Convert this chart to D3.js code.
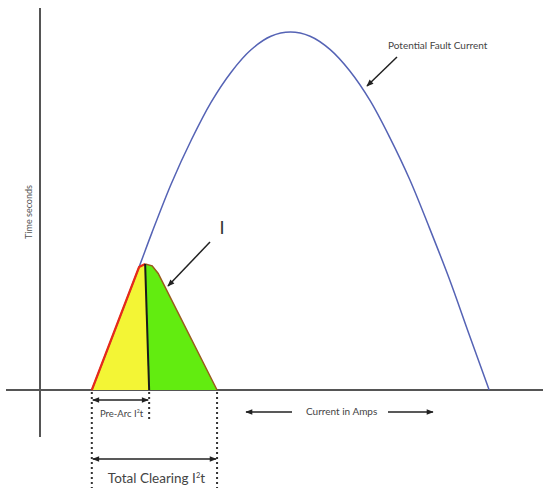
<!DOCTYPE html>
<html>
<head>
<meta charset="utf-8">
<script src="https://cdn.jsdelivr.net/npm/d3@7"></script>
<style>
  html, body { margin: 0; padding: 0; background: #fff; }
  svg { display: block; font-family: Lato, 'Open Sans', sans-serif; }
</style>
</head>
<body>
<div id="chart"></div>
<script>
const width = 543;
const height = 488;

// Potential fault current curve (current units, time units)
const faultCurrent = [10.3, 14.9, 19.7, 22.2, 26.1, 30.1, 34.0, 38.0, 41.9, 45.9, 49.8,
  53.7, 57.7, 61.6, 65.6, 69.5, 73.5, 77.4, 81.4, 85.3, 89.3];
const faultTime = [0, 15.7, 32.2, 41.0, 54.0, 65.5, 75.3, 83.2, 89.0, 92.6, 93.7,
  92.6, 89.1, 83.5, 75.8, 66.2, 55.1, 42.5, 29.0, 14.6, 0];

// Let-through (cut-off) current: pre-arc part and arcing part
const preArcCurrent = [10.3, 19.7, 20.9, 21.7];
const preArcTime = [0, 32.2, 33.0, 0];
const arcCurrent = [20.9, 22.3, 23.5, 35.2, 21.7];
const arcTime = [33.0, 32.5, 30.5, 0, 0];

const preArcEnd = 21.7;
const clearingStart = 10.3;
const clearingEnd = 35.2;

const x = d3.scaleLinear().domain([0, 100]).range([40, 543]);
const y = d3.scaleLinear().domain([0, 100]).range([390, 8]);

const zip = (xs, ys) => xs.map((v, i) => [v, ys[i]]);
const line = d3.line().x((d) => x(d[0])).y((d) => y(d[1]));

const svg = d3.select('#chart').append('svg')
  .attr('width', width).attr('height', height)
  .attr('viewBox', `0 0 ${width} ${height}`);

// Arrowhead markers
const defs = svg.append('defs');
const addArrow = (id, orient) => {
  defs.append('marker')
    .attr('id', id)
    .attr('viewBox', '0 0 10 10')
    .attr('refX', 9).attr('refY', 5)
    .attr('markerWidth', 9).attr('markerHeight', 7)
    .attr('markerUnits', 'userSpaceOnUse')
    .attr('orient', orient)
    .append('path')
    .attr('d', 'M0,1 L10,5 L0,9 Z')
    .attr('fill', '#222');
};
addArrow('arrow-end', 'auto');
addArrow('arrow-start', 'auto-start-reverse');

// Axes (plain lines, no ticks)
svg.append('line')
  .attr('x1', x(0)).attr('x2', x(0))
  .attr('y1', 8).attr('y2', 437)
  .attr('stroke', '#555').attr('stroke-width', 2);
svg.append('line')
  .attr('x1', 6).attr('x2', width)
  .attr('y1', y(0)).attr('y2', y(0))
  .attr('stroke', '#555').attr('stroke-width', 2);

// Filled areas
svg.append('path')
  .attr('d', line(zip(preArcCurrent, preArcTime)) + 'Z')
  .attr('fill', '#f3f535');
svg.append('path')
  .attr('d', line(zip(arcCurrent, arcTime)) + 'Z')
  .attr('fill', '#62ec10');

// Potential fault current curve
const smooth = d3.line().x((d) => x(d[0])).y((d) => y(d[1])).curve(d3.curveCatmullRom);
svg.append('path')
  .attr('d', smooth(zip(faultCurrent, faultTime)))
  .attr('fill', 'none')
  .attr('stroke', '#5563b5')
  .attr('stroke-width', 1.5);

// Outlines of the let-through curve
svg.append('path')
  .attr('d', line(zip(arcCurrent.slice(0, 4), arcTime.slice(0, 4))))
  .attr('fill', 'none').attr('stroke', '#9a5a1c').attr('stroke-width', 1.5);
svg.append('path')
  .attr('d', line(zip(preArcCurrent.slice(0, 3), preArcTime.slice(0, 3))))
  .attr('fill', 'none').attr('stroke', '#e82a18').attr('stroke-width', 2.2)
  .attr('stroke-linejoin', 'round');
svg.append('line')
  .attr('x1', x(preArcCurrent[2])).attr('y1', y(preArcTime[2]))
  .attr('x2', x(preArcEnd)).attr('y2', y(0))
  .attr('stroke', '#1a1a1a').attr('stroke-width', 2);

// Dotted guide lines
const guides = [
  { v: clearingStart, y2: 488 },
  { v: preArcEnd, y2: 422 },
  { v: clearingEnd, y2: 488 },
];
svg.selectAll('.guide')
  .data(guides)
  .enter()
  .append('line')
  .attr('class', 'guide')
  .attr('x1', (d) => x(d.v)).attr('x2', (d) => x(d.v))
  .attr('y1', y(0) + 2).attr('y2', (d) => d.y2)
  .attr('stroke', '#333').attr('stroke-width', 2)
  .attr('stroke-dasharray', '2,3');

// Double arrows for the I²t spans
const spans = [
  { a: clearingStart, b: preArcEnd, yy: 400 },
  { a: clearingStart, b: clearingEnd, yy: 459 },
];
svg.selectAll('.span')
  .data(spans)
  .enter()
  .append('line')
  .attr('class', 'span')
  .attr('x1', (d) => x(d.a) + 1).attr('x2', (d) => x(d.b) - 1)
  .attr('y1', (d) => d.yy).attr('y2', (d) => d.yy)
  .attr('stroke', '#222').attr('stroke-width', 1.5)
  .attr('marker-start', 'url(#arrow-start)')
  .attr('marker-end', 'url(#arrow-end)');

const label = (tx, ty, text, size, anchor = 'start') =>
  svg.append('text')
    .attr('x', tx).attr('y', ty)
    .attr('font-size', size)
    .attr('fill', '#444')
    .attr('text-anchor', anchor)
    .text(text);

// I²t label with a small superscript
const i2tLabel = (tx, ty, prefix, size) => {
  const t = svg.append('text')
    .attr('x', tx).attr('y', ty)
    .attr('font-size', size)
    .attr('fill', '#444')
    .attr('text-anchor', 'middle');
  t.append('tspan').text(prefix + 'I');
  t.append('tspan').attr('font-size', size * 0.55).attr('dy', -size * 0.38).text('2');
  t.append('tspan').attr('dy', size * 0.38).text('t');
};

// Labels
i2tLabel((x(clearingStart) + x(preArcEnd)) / 2 + 1, 417, 'Pre-Arc ', 9.5);
i2tLabel((x(clearingStart) + x(clearingEnd)) / 2 + 2, 483, 'Total Clearing ', 13.5);
label(306, 415, 'Current in Amps', 10);
label(388, 49, 'Potential Fault Current', 10);
svg.append('text')
  .attr('transform', 'translate(32,212) rotate(-90)')
  .attr('text-anchor', 'middle')
  .attr('font-size', 9)
  .attr('fill', '#555')
  .text('Time seconds');
svg.append('text')
  .attr('x', 222).attr('y', 234)
  .attr('text-anchor', 'middle')
  .attr('font-size', 18)
  .attr('fill', '#333')
  .text('I');

// Pointer arrows
const pointers = [
  [292, 412, 246, 412],
  [388, 412, 433, 412],
  [397, 57, 367, 86],
  [210, 242, 168, 286],
];
svg.selectAll('.pointer')
  .data(pointers)
  .enter()
  .append('line')
  .attr('class', 'pointer')
  .attr('x1', (d) => d[0]).attr('y1', (d) => d[1])
  .attr('x2', (d) => d[2]).attr('y2', (d) => d[3])
  .attr('stroke', '#222').attr('stroke-width', 1.5)
  .attr('marker-end', 'url(#arrow-end)');
</script>
</body>
</html>
